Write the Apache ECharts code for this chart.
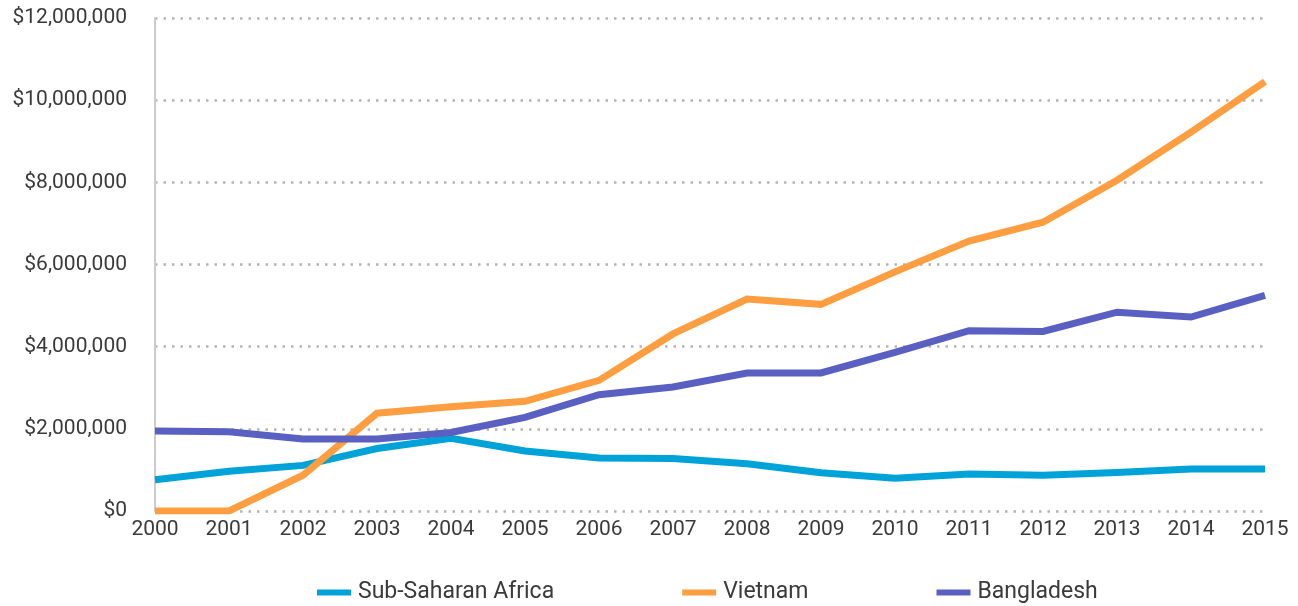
<!DOCTYPE html>
<html>
<head>
<meta charset="utf-8">
<script src="https://cdn.jsdelivr.net/npm/echarts@6/dist/echarts.min.js"></script>
<style>
  html, body { margin: 0; padding: 0; background: #fff; }
  #chart { width: 1298px; height: 606px; }
</style>
</head>
<body>
<div id="chart"></div>
<script>
const years = ['2000','2001','2002','2003','2004','2005','2006','2007','2008','2009','2010','2011','2012','2013','2014','2015'];
const subSaharan = [760000, 970000, 1110000, 1520000, 1770000, 1460000, 1290000, 1280000, 1150000, 930000, 800000, 900000, 870000, 940000, 1020000, 1020000];
const vietnam = [0, 0, 870000, 2380000, 2540000, 2670000, 3180000, 4310000, 5160000, 5030000, 5820000, 6570000, 7030000, 8050000, 9220000, 10450000];
const bangladesh = [1950000, 1930000, 1750000, 1750000, 1910000, 2280000, 2830000, 3020000, 3360000, 3360000, 3860000, 4390000, 4370000, 4840000, 4720000, 5250000];

const font = 'Roboto, sans-serif';
const textColor = '#3a3a3a';

const chart = echarts.init(document.getElementById('chart'));

function money(v) {
  return '$' + v.toString().replace(/\B(?=(\d{3})+(?!\d))/g, ',');
}

function line(name, data, color) {
  return {
    name: name,
    type: 'line',
    data: data,
    symbol: 'none',
    lineStyle: { color: color, width: 7, join: 'miter' },
    itemStyle: { color: color },
    animation: false
  };
}

chart.setOption({
  animation: false,
  grid: { left: 155, right: 33, top: 18, bottom: 95 },
  legend: {
    top: 576,
    left: 312,
    icon: 'rect',
    itemWidth: 34,
    itemHeight: 6,
    itemGap: 128,
    textStyle: { fontFamily: font, fontSize: 23, color: textColor, padding: [0, 0, 0, 2] },
    data: ['Sub-Saharan Africa', 'Vietnam', 'Bangladesh']
  },
  xAxis: {
    type: 'category',
    data: years,
    boundaryGap: false,
    axisLine: { show: false },
    axisTick: { show: false },
    axisLabel: { fontFamily: font, fontSize: 21, color: textColor, margin: 8 },
    splitLine: { show: false }
  },
  yAxis: {
    type: 'value',
    min: 0,
    max: 12000000,
    interval: 2000000,
    axisLine: { show: true, lineStyle: { color: '#cccccc', width: 2 } },
    axisTick: { show: false },
    axisLabel: { fontFamily: font, fontSize: 21, color: textColor, margin: 28, formatter: money },
    splitLine: { lineStyle: { color: '#b4b4b4', width: 2.5, type: [2.5, 6] } }
  },
  series: [
    line('Sub-Saharan Africa', subSaharan, '#00A3D7'),
    line('Vietnam', vietnam, '#FF9E40'),
    line('Bangladesh', bangladesh, '#5A60C2')
  ]
});
</script>
</body>
</html>
